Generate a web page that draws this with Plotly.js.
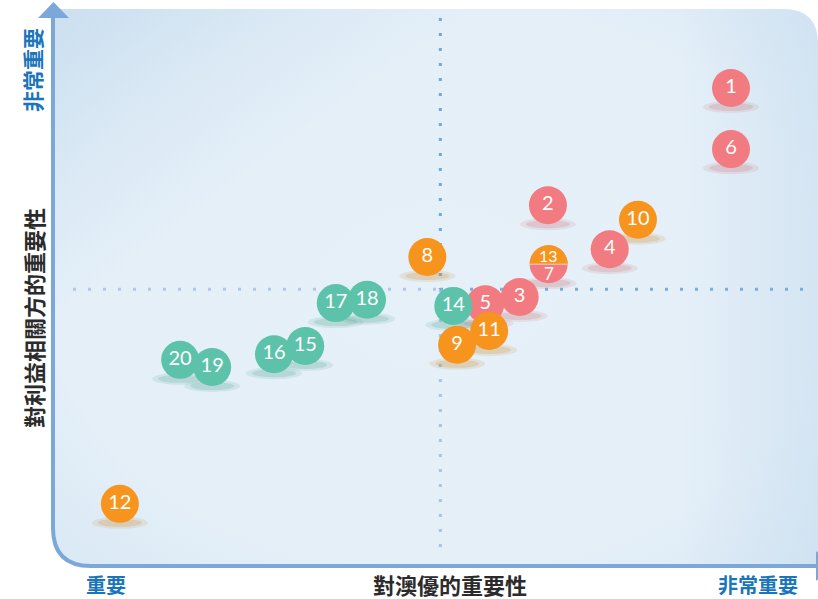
<!DOCTYPE html>
<html>
<head>
<meta charset="utf-8">
<script src="https://cdn.plot.ly/plotly-3.0.1.min.js"></script>
<style>html,body{margin:0;padding:0;background:#fff;}#chart{width:818px;height:599px;}</style>
</head>
<body>
<div id="chart"></div>
<script>
// ---------------- DATA ----------------
// drawing order = stacking order (later points sit on top)
const issueIds = ['12','20','19','16','15','17','18','8','9','5','14','11','3','13/7','2','4','10','1','6'];
// importance to the company (x) and to stakeholders (y), 0-10 scale
const companyImportance     = [0.80, 1.59, 2.01, 2.82, 3.23, 3.63, 4.04, 4.83, 5.22, 5.59, 5.17, 5.64, 6.04, 6.42, 6.41, 7.22, 7.59, 8.81, 8.81];
const stakeholderImportance = [1.14, 3.73, 3.60, 3.83, 3.98, 4.75, 4.81, 5.58, 4.00, 4.73, 4.70, 4.25, 4.86, 5.45, 6.51, 5.72, 6.25, 8.62, 7.52];
const issueGroup            = ['O','T','T','T','T','T','T','O','O','R','T','O','R','O/R','R','R','O','R','R'];
const splitLabels = ['13', '7'];   // the shared bubble: top / bottom
const quadrantSplit = 5;
const axisLabelLow = '重要', axisLabelHigh = '非常重要';
const xTitle = '對澳優的重要性', yTitle = '對利益相關方的重要性';

// ---------------- STYLE ----------------
const groupColor  = {R: '#f17b80', O: '#f7941d', T: '#5cc3aa', 'O/R': '#f17b80'};
const shadowColor = {R: '200,110,115', O: '200,135,40', T: '80,160,140', 'O/R': '200,110,115'};
const X_RANGE = [-0.05, 9.95], Y_RANGE = [0.04, 10.04];
const L = 55, R = 0, T = 9, B = 34, W = 818 - L - R, H = 599 - T - B;
const ux = (X_RANGE[1] - X_RANGE[0]) / W, uy = (Y_RANGE[1] - Y_RANGE[0]) / H;
const px = v => (v - L) / W;          // pixel -> paper x
const py = v => (T + H - v) / H;      // pixel -> paper y
const BLUE = '#7ba7da';
const CJK = '"Noto Sans CJK TC", "Noto Sans CJK SC", sans-serif';
const RADIUS = 19;

// panel background (rounded, gradient) as svg image
const svg = `<svg xmlns="http://www.w3.org/2000/svg" width="${W}" height="${H}" viewBox="0 0 ${W} ${H}" preserveAspectRatio="none">
<defs>
<radialGradient id="g" cx="50%" cy="50%" r="85%">
<stop offset="0" stop-color="#e6f0f9"/><stop offset="0.6" stop-color="#e4eff8"/><stop offset="1" stop-color="#d2e4f2"/>
</radialGradient>
<linearGradient id="d" x1="0" y1="0" x2="1" y2="1">
<stop offset="0" stop-color="#c6dcee" stop-opacity="0.7"/><stop offset="0.28" stop-color="#c6dcee" stop-opacity="0"/>
</linearGradient>
<linearGradient id="r" x1="0" y1="0" x2="1" y2="0">
<stop offset="0.82" stop-color="#c8ddef" stop-opacity="0"/><stop offset="1" stop-color="#c8ddef" stop-opacity="0.55"/>
</linearGradient>
</defs>
<path d="M0,0 H${W-35} Q${W},0 ${W},35 V${H} H36 Q0,${H} 0,${H-36} Z" fill="url(#g)"/>
<path d="M0,0 H${W-35} Q${W},0 ${W},35 V${H} H36 Q0,${H} 0,${H-36} Z" fill="url(#d)"/>
<path d="M0,0 H${W-35} Q${W},0 ${W},35 V${H} H36 Q0,${H} 0,${H-36} Z" fill="url(#r)"/>
</svg>`;

const shapes = [];
// quadrant dotted lines
const dot = '3px,12px';
shapes.push({type:'line', xref:'x', yref:'paper', x0:quadrantSplit, x1:quadrantSplit, y0:py(18), y1:py(289), layer:'below', line:{color:'#6ea8dc', width:3, dash:dot}});
shapes.push({type:'line', xref:'x', yref:'paper', x0:quadrantSplit, x1:quadrantSplit, y0:py(289), y1:py(556), layer:'below', line:{color:'#a8c4e2', width:3, dash:dot}});
shapes.push({type:'line', xref:'paper', yref:'y', x0:px(73), x1:px(440), y0:quadrantSplit, y1:quadrantSplit, layer:'below', line:{color:'#b1c9e6', width:3, dash:dot}});
shapes.push({type:'line', xref:'paper', yref:'y', x0:px(440), x1:px(812), y0:quadrantSplit, y1:quadrantSplit, layer:'below', line:{color:'#79aedd', width:3, dash:dot}});

// shadows from data
issueIds.forEach((id, i) => {
  const x = companyImportance[i], y = stakeholderImportance[i], c = shadowColor[issueGroup[i]];
  const cy = y - RADIUS * uy;
  [[28, 6, 0.14], [22, 4, 0.2]].forEach(([hw, hh, a]) => {
    shapes.push({type:'circle', xref:'x', yref:'y', layer:'below',
      x0: x - hw * ux, x1: x + hw * ux, y0: cy - hh * uy, y1: cy + hh * uy,
      fillcolor:`rgba(${c},${a})`, line:{width:0}});
  });
});

// split bubble top half
const annotations = [];
issueIds.forEach((id, i) => {
  if (issueGroup[i] !== 'O/R') return;
  const x = companyImportance[i], y = stakeholderImportance[i];
  const rx = RADIUS * ux, ry = RADIUS * uy, k = 0.5523;
  const p = `M${x-rx},${y} C${x-rx},${y+k*ry} ${x-k*rx},${y+ry} ${x},${y+ry} C${x+k*rx},${y+ry} ${x+rx},${y+k*ry} ${x+rx},${y} Z`;
  shapes.push({type:'path', xref:'x', yref:'y', layer:'above', path:p, fillcolor:groupColor.O, line:{width:0}});
  shapes.push({type:'line', xref:'x', yref:'y', layer:'above', x0:x-rx, x1:x+rx, y0:y, y1:y, line:{color:'rgba(255,220,220,0.9)', width:1}});
  annotations.push({xref:'x', yref:'y', x:x, y:y + 9 * uy, text:splitLabels[0], showarrow:false, font:{family:'Lato, sans-serif', size:16, color:'#fff'}});
  annotations.push({xref:'x', yref:'y', x:x, y:y - 9.5 * uy, text:splitLabels[1], showarrow:false, font:{family:'Lato, sans-serif', size:17, color:'#fff'}});
});

// axes frame (arrows)
const pathPx = pts => pts.map(s => s.replace(/(-?[\d.]+),(-?[\d.]+)/g, (m, a, b) => `${px(+a)},${py(+b)}`)).join(' ');
shapes.push({type:'path', xref:'paper', yref:'paper', layer:'above',
  path: pathPx(['M53,17', 'L53,528', 'Q53,566', '91,566', 'L840,566']), line:{color:BLUE, width:4}});
shapes.push({type:'path', xref:'paper', yref:'paper', layer:'above',
  path: pathPx(['M38,18', 'L69,18', 'L53.5,2', 'Z']), fillcolor:BLUE, line:{width:0}});
shapes.push({type:'path', xref:'paper', yref:'paper', layer:'above',
  path: pathPx(['M816,551', 'L816,581', 'L834,566', 'Z']), fillcolor:BLUE, line:{width:0}});

// labels
const lab = (text, x, y, size, color, angle) => ({xref:'paper', yref:'paper', x:px(x), y:py(y), xanchor:'center', yanchor:'middle',
  text:text, showarrow:false, textangle:angle || 0, borderpad:0, font:{family:CJK, size:size, color:color, weight:700}});
annotations.push(lab(axisLabelHigh, 32, 70, 21, '#1b75bb', -90));
annotations.push(lab(yTitle, 33, 318, 22, '#2b2b2b', -90));
annotations.push(lab(axisLabelLow, 106, 584, 20, '#1b75bb'));
annotations.push(lab(xTitle, 450, 584, 22, '#2b2b2b'));
annotations.push(lab(axisLabelHigh, 758, 584, 20, '#1b75bb'));

const trace = {
  type:'scatter', mode:'markers+text',
  x: companyImportance, y: stakeholderImportance,
  text: issueIds.map((id, i) => issueGroup[i] === 'O/R' ? '' : id),
  textposition:'middle center',
  textfont:{family:'Lato, sans-serif', size:20, color:'#ffffff'},
  marker:{size:RADIUS * 2, color: issueGroup.map(g => groupColor[g]), line:{width:0}, opacity:1},
  hoverinfo:'skip', cliponaxis:false
};

const layout = {
  width:818, height:599, margin:{l:L, r:R, t:T, b:B},
  paper_bgcolor:'#ffffff', plot_bgcolor:'rgba(0,0,0,0)', showlegend:false,
  xaxis:{range:X_RANGE, showgrid:false, zeroline:false, showticklabels:false, showline:false, ticks:'', fixedrange:true},
  yaxis:{range:Y_RANGE, showgrid:false, zeroline:false, showticklabels:false, showline:false, ticks:'', fixedrange:true},
  images:[{source:'data:image/svg+xml;charset=utf-8,' + encodeURIComponent(svg), xref:'paper', yref:'paper',
    x:0, y:1, sizex:1, sizey:1, xanchor:'left', yanchor:'top', sizing:'stretch', layer:'below'}],
  shapes:shapes, annotations:annotations
};

Plotly.newPlot('chart', [trace], layout, {displayModeBar:false, staticPlot:true});
</script>
</body>
</html>
